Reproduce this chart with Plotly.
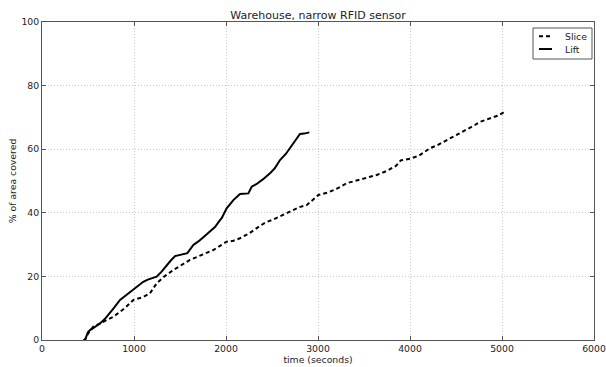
import plotly.graph_objects as go

slice_x = [450, 467, 500, 558, 650, 775, 900, 993, 1100, 1174, 1246, 1330, 1427, 1520, 1609, 1700, 1800, 1862, 2007, 2080, 2152, 2250, 2350, 2430, 2514, 2600, 2700, 2800, 2877, 2940, 3004, 3100, 3200, 3312, 3400, 3500, 3638, 3750, 3850, 3900, 4000, 4100, 4217, 4300, 4400, 4500, 4600, 4700, 4761, 4850, 4950, 5043]
slice_y = [0, 0, 2.0, 4.2, 5.5, 7.3, 10, 12.6, 13.5, 14.7, 17.8, 20, 22, 23.5, 25.2, 26.3, 27.5, 28.3, 30.9, 31.2, 32, 33.5, 35.5, 37, 37.9, 39, 40.5, 41.8, 42.4, 44, 45.6, 46.3, 47.5, 49.3, 50, 50.8, 51.9, 53.2, 54.8, 56.5, 57, 58, 60.3, 61.3, 62.8, 64.3, 65.8, 67.5, 68.6, 69.5, 70.5, 72]

lift_x = [450, 467, 500, 522, 560, 600, 630, 680, 739, 780, 848, 900, 993, 1050, 1101, 1150, 1246, 1300, 1355, 1400, 1446, 1536, 1580, 1645, 1700, 1760, 1826, 1880, 1935, 1953, 2007, 2040, 2080, 2152, 2200, 2243, 2279, 2330, 2400, 2478, 2530, 2587, 2650, 2700, 2750, 2804, 2850, 2906]
lift_y = [0, 0, 2.5, 3.1, 3.8, 4.5, 5.2, 6.5, 8.4, 10, 12.6, 13.8, 15.7, 17, 18.3, 19, 19.9, 21.5, 23.6, 25, 26.4, 27.0, 27.3, 29.9, 31, 32.5, 34.1, 35.5, 37.7, 38.3, 41.4, 42.5, 44, 45.9, 46.1, 46.1, 48.2, 49, 50.5, 52.4, 54, 56.6, 58.5, 60.5, 62.4, 64.8, 64.9, 65.3]

series_names = ["Slice", "Lift"]
x_ticks = [0, 1000, 2000, 3000, 4000, 5000, 6000]
y_ticks = [0, 20, 40, 60, 80, 100]

FONT = "DejaVu Sans"
TXT = "#222222"
SLICE_DASH = "4px,3px"

fig = go.Figure()
fig.add_trace(go.Scatter(x=slice_x, y=slice_y, mode="lines", name=series_names[0],
                         line=dict(color="black", width=2, dash=SLICE_DASH)))
fig.add_trace(go.Scatter(x=lift_x, y=lift_y, mode="lines", name=series_names[1],
                         line=dict(color="black", width=2)))

axis_common = dict(showline=True, linecolor="#555555", linewidth=1, mirror="ticks",
                   ticks="inside", ticklen=4, tickcolor="#555555",
                   showgrid=True, gridcolor="#c8c8c8", griddash="1px,2px", gridwidth=1,
                   zeroline=False, automargin=False, ticklabeloverflow="allow",
                   tickfont=dict(family=FONT, size=9.3, color=TXT))

# compact legend (box, line samples, labels) in paper coordinates
lx0, lx1, ly0, ly1 = 0.8895, 0.9964, 0.8836, 0.9811
rows = [0.955, 0.915]
shapes = [dict(type="rect", xref="paper", yref="paper", x0=lx0, x1=lx1, y0=ly0, y1=ly1,
               line=dict(color="#555555", width=1), fillcolor="white", layer="above")]
annotations = []
for name, row, dash in zip(series_names, rows, [SLICE_DASH, "solid"]):
    shapes.append(dict(type="line", xref="paper", yref="paper", x0=0.9004, x1=0.9239,
                       y0=row, y1=row, line=dict(color="black", width=2, dash=dash),
                       layer="above"))
    annotations.append(dict(text=name, xref="paper", yref="paper", x=0.9438, y=row,
                            xanchor="left", yanchor="middle", showarrow=False,
                            font=dict(family=FONT, size=9.3, color=TXT)))

fig.update_layout(
    width=606, height=367,
    margin=dict(l=42, r=12, t=22, b=27),
    paper_bgcolor="white", plot_bgcolor="white",
    title=dict(text="Warehouse, narrow RFID sensor", x=0.5, xanchor="center", xref="paper",
               y=1, yref="paper", yanchor="bottom", pad=dict(b=3),
               font=dict(family=FONT, size=11, color=TXT)),
    xaxis=dict(range=[0, 6000], tickvals=x_ticks,
               title=dict(text="time (seconds)", standoff=2,
                          font=dict(family=FONT, size=9.3, color=TXT)),
               **axis_common),
    yaxis=dict(range=[0, 100], tickvals=y_ticks,
               title=dict(text="% of area covered", standoff=3,
                          font=dict(family=FONT, size=9.3, color=TXT)),
               **axis_common),
    shapes=shapes,
    annotations=annotations,
    showlegend=False,
)

fig.write_html("out.html")
